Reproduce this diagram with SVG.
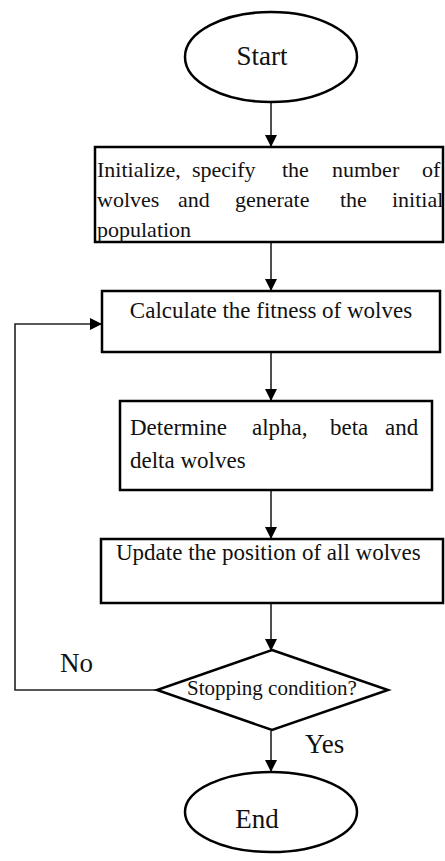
<svg xmlns="http://www.w3.org/2000/svg" width="445" height="861" viewBox="0 0 445 861">
<style>
.shape{fill:#fff;stroke:#000;stroke-width:2.5}
.t{font-family:"Liberation Serif","Times New Roman",serif;font-size:23px;fill:#111}
.b1{font-size:22px}
.s{font-size:21px}
.big{font-size:27px}
.c{stroke:#222;stroke-width:1.6;fill:none}
</style>
<defs>
<marker id="ah" markerUnits="userSpaceOnUse" markerWidth="12" markerHeight="14" refX="11" refY="6" orient="auto">
<path d="M0,0 L12,6 L0,12 Z" fill="#000"/>
</marker>
</defs>
<rect width="445" height="861" fill="#fff"/>
<g id="connectors">
<line class="c" x1="271" y1="102" x2="271" y2="146" marker-end="url(#ah)"/>
<line class="c" x1="271" y1="243" x2="271" y2="290" marker-end="url(#ah)"/>
<line class="c" x1="271" y1="353" x2="271" y2="400" marker-end="url(#ah)"/>
<line class="c" x1="271" y1="491" x2="271" y2="538" marker-end="url(#ah)"/>
<line class="c" x1="271" y1="604" x2="271" y2="650" marker-end="url(#ah)"/>
<line class="c" x1="271" y1="731" x2="271" y2="771" marker-end="url(#ah)"/>
<polyline class="c" points="157,690 15,690 15,324 101,324" marker-end="url(#ah)"/>
<text class="t big" x="60" y="672">No</text>
<text class="t big" x="305" y="753">Yes</text>
</g>
<g id="start">
<ellipse class="shape" cx="271" cy="57" rx="86" ry="45"/>
<text class="t big" x="262" y="65" text-anchor="middle">Start</text>
</g>
<g id="init">
<rect class="shape" x="95" y="147" width="348" height="95"/>
<text class="t b1" y="177"><tspan x="97">Initialize,</tspan><tspan x="192">specify</tspan><tspan x="282">the</tspan><tspan x="332">number</tspan><tspan x="422">of</tspan></text>
<text class="t b1" y="207"><tspan x="97">wolves</tspan><tspan x="178">and</tspan><tspan x="235">generate</tspan><tspan x="340">the</tspan><tspan x="392">initial</tspan></text>
<text class="t b1" x="97" y="237">population</text>
</g>
<g id="fitness">
<rect class="shape" x="102" y="291" width="338" height="61"/>
<text class="t" x="271" y="318" text-anchor="middle">Calculate the fitness of wolves</text>
</g>
<g id="determine">
<rect class="shape" x="120" y="401" width="312" height="89"/>
<text class="t" y="435"><tspan x="130">Determine</tspan><tspan x="252">alpha,</tspan><tspan x="330">beta</tspan><tspan x="385">and</tspan></text>
<text class="t" x="130" y="468">delta wolves</text>
</g>
<g id="update">
<rect class="shape" x="101" y="539" width="342" height="64"/>
<text class="t" x="116" y="560">Update the position of all wolves</text>
</g>
<g id="decision">
<polygon class="shape" points="272,650 388,690 272,730 157,690"/>
<text class="t s" x="187" y="695">Stopping condition?</text>
</g>
<g id="end">
<ellipse class="shape" cx="271" cy="812" rx="86" ry="40"/>
<text class="t big" x="257" y="828" text-anchor="middle">End</text>
</g>
</svg>
